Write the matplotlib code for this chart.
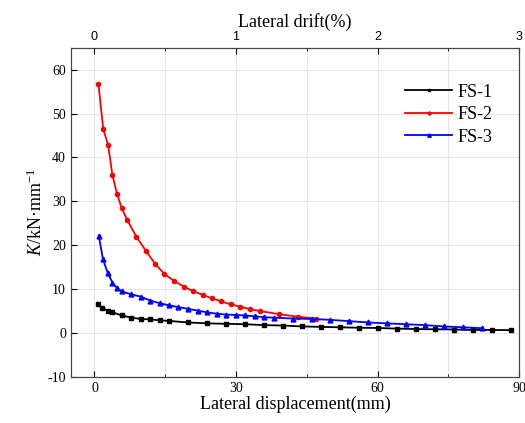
import numpy as np
import matplotlib.pyplot as plt
from matplotlib.ticker import MultipleLocator

# ---- data ----
fs1_x = [0.7, 1.7, 2.8, 3.8, 5.8, 7.8, 9.8, 11.8, 13.8, 15.8, 19.9, 23.8, 27.9, 31.9,
         36.0, 40.0, 44.0, 48.0, 52.0, 56.0, 60.1, 64.2, 68.2, 72.2, 76.2, 80.3, 84.3, 88.3]
fs1_y = [6.5, 5.7, 5.1, 4.7, 4.0, 3.5, 3.2, 3.1, 2.9, 2.75, 2.4, 2.2, 2.1, 2.0,
         1.8, 1.7, 1.5, 1.4, 1.3, 1.2, 1.15, 1.0, 0.9, 0.85, 0.8, 0.7, 0.7, 0.65]

fs2_x = [0.85, 1.85, 2.9, 3.8, 4.8, 5.8, 6.9, 8.9, 10.9, 12.9, 14.8, 16.8, 18.9, 20.8,
         22.9, 24.9, 26.9, 28.9, 30.9, 33.0, 35.1, 39.1, 43.1, 47.0]
fs2_y = [56.7, 46.5, 42.8, 36.0, 31.6, 28.4, 25.8, 21.9, 18.7, 15.7, 13.5, 11.9, 10.6, 9.6,
         8.7, 7.9, 7.2, 6.5, 6.0, 5.4, 5.0, 4.3, 3.7, 3.3]

fs3_x = [0.9, 1.8, 2.8, 3.8, 4.8, 5.8, 7.8, 9.8, 11.8, 13.8, 15.8, 17.8, 19.9, 21.9,
         23.9, 25.9, 27.9, 30.0, 32.0, 34.0, 36.0, 38.0, 42.0, 46.1, 50.0, 54.0, 58.0,
         62.0, 66.0, 70.0, 74.0, 78.0, 82.1]
fs3_y = [22.2, 16.8, 13.7, 11.5, 10.2, 9.5, 8.8, 8.3, 7.4, 6.8, 6.3, 5.9, 5.5, 5.1,
         4.7, 4.4, 4.2, 4.1, 4.0, 3.8, 3.6, 3.5, 3.3, 3.2, 3.0, 2.7, 2.4,
         2.2, 2.0, 1.8, 1.5, 1.3, 1.1]

drift_ticks = [0, 30, 60, 90]
drift_labels = ["0", "1", "2", "3"]

SERIF = ["Liberation Serif", "DejaVu Serif"]
SANS = ["Liberation Sans", "DejaVu Sans"]
TICK_FS = 10
LABEL_FS = 13

plt.rcParams["font.family"] = SERIF
plt.rcParams["axes.unicode_minus"] = False
plt.rcParams["mathtext.fontset"] = "custom"
plt.rcParams["mathtext.rm"] = "Liberation Serif"
plt.rcParams["mathtext.it"] = "Liberation Serif:italic"

fig = plt.figure(figsize=(5.25, 4.23), dpi=100)
ax = fig.add_axes([0.135, 0.109, 0.854, 0.778])

ax.plot(fs1_x, fs1_y, color="black", marker="s", markersize=3, linewidth=1.3, label="FS-1")
ax.plot(fs2_x, fs2_y, color="red", marker="o", markersize=3, linewidth=1.3, label="FS-2")
ax.plot(fs3_x, fs3_y, color="blue", marker="^", markersize=3.5, linewidth=1.3, label="FS-3")

ax.set_xlim(-5, 90)
ax.set_ylim(-10, 65)
ax.set_xticks([0, 30, 60, 90])
ax.xaxis.set_minor_locator(MultipleLocator(15))
ax.set_yticks(np.arange(-10, 61, 10))
ax.tick_params(direction="in", labelsize=TICK_FS, length=4)
ax.tick_params(which="minor", direction="in", length=2)
ax.grid(True, which="both", color="#e6e6e6", linewidth=0.8)
ax.set_axisbelow(True)

ax.set_xlabel("Lateral displacement(mm)", fontsize=LABEL_FS, labelpad=1)
ax.set_ylabel(r"$K$/kN·mm$^{-1}$", fontsize=LABEL_FS, labelpad=1)

top = ax.twiny()
top.set_xlim(ax.get_xlim())
top.set_xticks(drift_ticks)
top.set_xticklabels(drift_labels, family=SANS)
top.xaxis.set_minor_locator(MultipleLocator(15))
top.tick_params(direction="in", labelsize=9, length=4)
top.tick_params(which="minor", direction="in", length=2)
top.set_xlabel("Lateral drift(%)", fontsize=LABEL_FS, labelpad=3)

for a in (ax, top):
    for s in a.spines.values():
        s.set_linewidth(0.8)
        s.set_color("#444444")

leg = ax.legend(loc="upper right", bbox_to_anchor=(0.977, 0.94), frameon=False,
                prop={"size": LABEL_FS}, handlelength=2.6, markerscale=0.7,
                handletextpad=0.3, labelspacing=0.3)

fig.savefig("out.png", dpi=100)
